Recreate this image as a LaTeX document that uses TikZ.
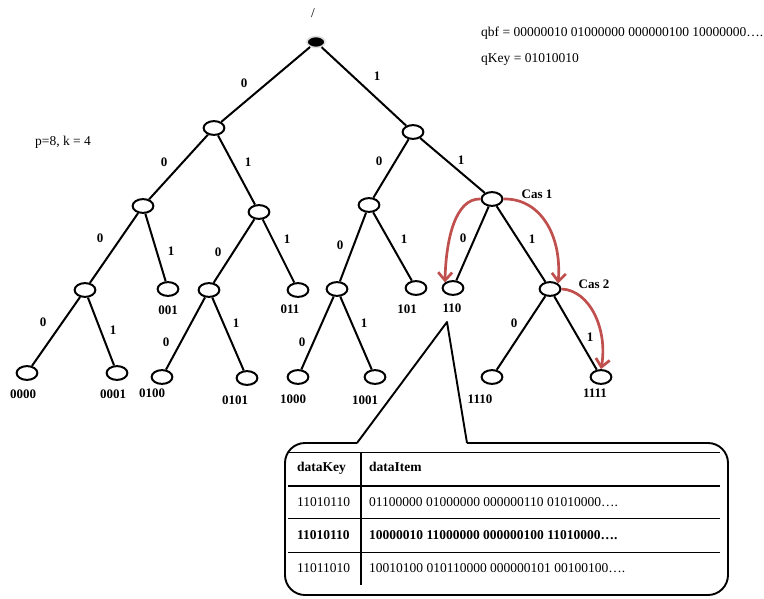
\documentclass[tikz,border=0pt]{standalone}
\usepackage{fontspec}
\setmainfont{Liberation Serif}
\usetikzlibrary{shapes.geometric,arrows.meta}
\definecolor{casred}{HTML}{C0504D}
\tikzset{
  tnode/.style={ellipse,draw=black,line width=2pt,minimum width=20.8pt,minimum height=13.8pt,inner sep=0pt},
  rootnode/.style={ellipse,fill=black,draw=black!12,line width=1.6pt,minimum width=18pt,minimum height=11pt,inner sep=0pt},
  edge/.style={line width=2pt},
  blab/.style={font=\fontsize{13}{15}\selectfont\bfseries,inner sep=0pt},
  plab/.style={font=\fontsize{13.5}{16}\selectfont,inner sep=0pt},
  casarrow/.style={draw=casred,line width=2.7pt,-{Straight Barb[length=8pt,width=14pt,line width=2.7pt]}},
  tline/.style={line width=1.1pt},
}
\begin{document}
\begin{tikzpicture}[x=1pt,y=-1pt]
\useasboundingbox (0,0) rectangle (764,598);
% nodes
\node[rootnode] (root) at (316,42) {};
\node[tnode] (n0) at (214,128) {};
\node[tnode] (n1) at (413,132) {};
\node[tnode] (n00) at (143,206) {};
\node[tnode] (n01) at (259,212) {};
\node[tnode] (n10) at (369,205) {};
\node[tnode] (n11) at (492,199) {};
\node[tnode] (n000) at (85,290) {};
\node[tnode] (n001) at (168,289) {};
\node[tnode] (n010) at (209,290) {};
\node[tnode] (n011) at (298,290) {};
\node[tnode] (n100) at (337,289) {};
\node[tnode] (n101) at (416,288) {};
\node[tnode] (n110) at (453,288) {};
\node[tnode] (n111) at (550,289) {};
\node[tnode] (n0000) at (27,373) {};
\node[tnode] (n0001) at (117,373) {};
\node[tnode] (n0100) at (162,377) {};
\node[tnode] (n0101) at (247,378) {};
\node[tnode] (n1000) at (298,377) {};
\node[tnode] (n1001) at (375,377) {};
\node[tnode] (n1110) at (492,377) {};
\node[tnode] (n1111) at (601,377) {};
% edges
\foreach \a/\b in {root/n0,root/n1,n0/n00,n0/n01,n1/n10,n1/n11,
  n00/n000,n00/n001,n01/n010,n01/n011,n10/n100,n10/n101,n11/n110,n11/n111,
  n000/n0000,n000/n0001,n010/n0100,n010/n0101,n100/n1000,n100/n1001,n111/n1110,n111/n1111}
  \draw[edge] (\a) -- (\b);
% edge labels
\node[blab] (e0) at (244,83) {0};
\node[blab] (e1) at (377,76) {1};
\node[blab] (e00) at (164,162) {0};
\node[blab] (e01) at (248,162) {1};
\node[blab] (e10) at (379,161) {0};
\node[blab] (e11) at (461,160) {1};
\node[blab] (e000) at (100,238) {0};
\node[blab] (e001) at (171,251) {1};
\node[blab] (e010) at (218,252) {0};
\node[blab] (e011) at (287,239) {1};
\node[blab] (e100) at (340,245) {0};
\node[blab] (e101) at (404,239) {1};
\node[blab] (e110) at (463,238) {0};
\node[blab] (e111) at (532,239) {1};
\node[blab] (e0000) at (43,322) {0};
\node[blab] (e0001) at (113,330) {1};
\node[blab] (e0100) at (166,342) {0};
\node[blab] (e0101) at (236,323) {1};
\node[blab] (e1000) at (302,342) {0};
\node[blab] (e1001) at (364,323) {1};
\node[blab] (e1110) at (514,323) {0};
\node[blab] (e1111) at (590,337) {1};
% leaf labels
\node[blab] (l001) at (168,310) {001};
\node[blab] (l011) at (290,309) {011};
\node[blab] (l101) at (407,309) {101};
\node[blab] (l110) at (452,308) {110};
\node[blab] (l0000) at (23,394) {0000};
\node[blab] (l0001) at (113,394) {0001};
\node[blab] (l0100) at (152,393) {0100};
\node[blab] (l0101) at (235,400) {0101};
\node[blab] (l1000) at (293,399) {1000};
\node[blab] (l1001) at (365,400) {1001};
\node[blab] (l1110) at (480,399) {1110};
\node[blab] (l1111) at (595,393) {1111};
\node[blab] (cas1) at (537,194) {Cas 1};
\node[blab] (cas2) at (594,284) {Cas 2};
% plain texts
\node[plab] (slash) at (313,13) {/};
\node[plab,anchor=base west] (qbf) at (481,36) {qbf = 00000010 01000000 000000100 10000000….};
\node[plab,anchor=base west] (qkey) at (481,62) {qKey = 01010010};
\node[plab,anchor=base west] (pk) at (35,145) {p=8, k = 4};
% red arrows
\draw[casarrow] (n11.west) .. controls (455,198) and (446,240) .. (n110.north west);
\draw[casarrow] (n11.east) .. controls (540,198) and (562,235) .. (n111.north east);
\draw[casarrow] (n111.east) .. controls (590,290) and (608,330) .. (n1111.north);
% callout
\coordinate (apex) at (447,322);
\draw[line width=1.9pt,rounded corners=20pt] (357,443) -- (285,443) -- (285,595) -- (728,595) -- (728,443) -- (467,443);
\draw[line width=1.9pt,line join=round] (357,443) -- (apex) -- (467,443);
% table
\draw[tline] (288,452.7) -- (720,452.7);
\draw[tline] (288,486) -- (720,486);
\draw[tline] (288,518.7) -- (720,518.7);
\draw[tline] (288,552.7) -- (720,552.7);
\draw[tline] (361,452.7) -- (361,585);
\node[plab,font=\fontsize{13.5}{16}\selectfont\bfseries,anchor=base west] (hk) at (297,471.5) {dataKey};
\node[plab,font=\fontsize{13.5}{16}\selectfont\bfseries,anchor=base west] (hi) at (369,471.5) {dataItem};
\node[plab,anchor=base west] (k1) at (297,506) {11010110};
\node[plab,anchor=base west] (i1) at (369,506) {01100000 01000000 000000110 01010000….};
\node[plab,font=\fontsize{13.5}{16}\selectfont\bfseries,anchor=base west] (k2) at (297,539) {11010110};
\node[plab,font=\fontsize{13.5}{16}\selectfont\bfseries,anchor=base west] (i2) at (369,539) {10000010 11000000 000000100 11010000….};
\node[plab,anchor=base west] (k3) at (297,572.5) {11011010};
\node[plab,anchor=base west] (i3) at (369,572.5) {10010100 010110000 000000101 00100100….};
\end{tikzpicture}
\end{document}
